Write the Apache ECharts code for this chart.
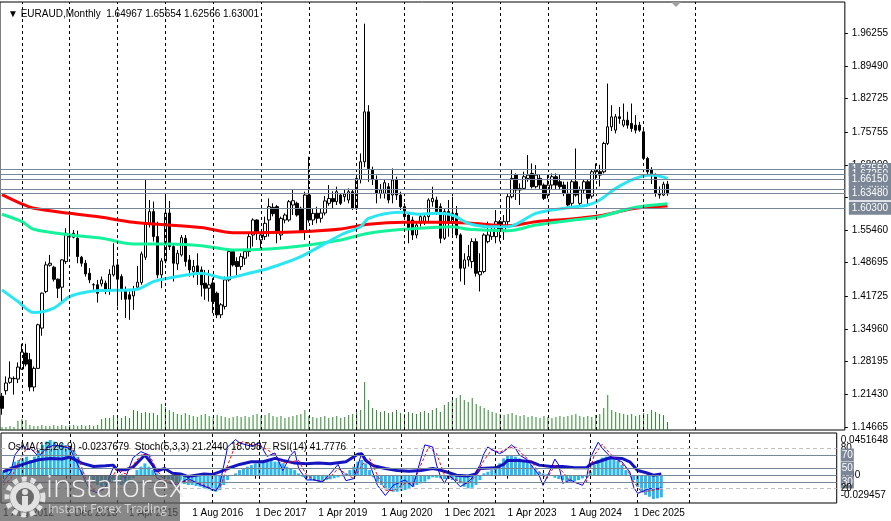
<!DOCTYPE html>
<html>
<head>
<meta charset="UTF-8">
<title>EURAUD Monthly</title>
<script src="https://cdn.jsdelivr.net/npm/echarts@6/dist/echarts.min.js"></script>
</head>
<body style="margin:0;background:#fff;overflow:hidden">
<div id="chart" style="width:891px;height:521px"></div>
<script type="text/javascript">
    var FONT = "'Liberation Sans', Arial, sans-serif";
    var FS = 10;

    // monthly slots from 1 Aug 2012, with empty room on the right like the terminal
    var monthNames = ['Jan', 'Feb', 'Mar', 'Apr', 'May', 'Jun', 'Jul', 'Aug', 'Sep', 'Oct', 'Nov', 'Dec'];
    var months = [];
    for (var k = 0; k < 212; k++) {
        var m = (7 + k) % 12, y = 2012 + Math.floor((7 + k) / 12);
        months.push('1 ' + monthNames[m] + ' ' + y);
    }
    var lastBar = 167;
    var labelEvery = 16;
    var yearLines = [5, 17, 29, 41, 53, 65, 77, 89, 101, 113, 125, 137, 149, 161, 174];

    var opens = [1.2100, 1.2215, 1.2388, 1.2464, 1.2457, 1.2664, 1.2995, 1.2857, 1.2291, 1.2678,
        1.3513, 1.4272, 1.4817, 1.4775, 1.4527, 1.4361, 1.4893, 1.5460, 1.5396, 1.5376,
        1.4982, 1.4858, 1.4651, 1.4410, 1.4410, 1.4430, 1.4444, 1.4320, 1.4617, 1.4824,
        1.4582, 1.4306, 1.4203, 1.4182, 1.4361, 1.4458, 1.4982, 1.5686, 1.5928, 1.5410,
        1.4617, 1.4906, 1.5900, 1.5203, 1.4844, 1.5030, 1.5375, 1.4927, 1.4686, 1.4803,
        1.4720, 1.4444, 1.4340, 1.4450, 1.4237, 1.3789, 1.3962, 1.4513, 1.5099, 1.4893,
        1.4789, 1.4962, 1.5099, 1.5444, 1.5755, 1.5341, 1.5410, 1.5755, 1.6017, 1.6031,
        1.5444, 1.5755, 1.5755, 1.6065, 1.6100, 1.5996, 1.5513, 1.6272, 1.5755, 1.5893,
        1.5790, 1.5900, 1.6100, 1.6200, 1.6134, 1.6272, 1.6238, 1.6169, 1.6341, 1.5996,
        1.6597, 1.6962, 1.7997, 1.6800, 1.6583, 1.6307, 1.6307, 1.6445, 1.6272, 1.6583,
        1.6272, 1.6031, 1.5858, 1.5755, 1.5444, 1.5686, 1.5720, 1.5824, 1.6134, 1.6169,
        1.6031, 1.5375, 1.5930, 1.5720, 1.5893, 1.5445, 1.4755, 1.4927, 1.4893, 1.5306,
        1.4617, 1.4686, 1.5306, 1.5410, 1.5410, 1.5720, 1.5513, 1.5720, 1.6238, 1.6686,
        1.6376, 1.6410, 1.6617, 1.6721, 1.6445, 1.6617, 1.6479, 1.6272, 1.6479, 1.6652,
        1.6548, 1.6479, 1.6307, 1.6100, 1.6548, 1.6100, 1.6376, 1.6548, 1.6250, 1.6755,
        1.6755, 1.6755, 1.7342, 1.7687, 1.7618, 1.7894, 1.7721, 1.7825, 1.7756, 1.7721,
        1.7721, 1.7583, 1.7031, 1.6790, 1.6686, 1.6307, 1.6272, 1.64967];
    var highs = [1.2167, 1.2512, 1.2823, 1.2512, 1.2802, 1.3188, 1.3188, 1.2995, 1.2719, 1.3602,
        1.4251, 1.4893, 1.5031, 1.4803, 1.4541, 1.4941, 1.5583, 1.5858, 1.5548, 1.5534,
        1.5010, 1.4927, 1.4755, 1.4444, 1.4513, 1.4582, 1.4499, 1.4734, 1.5272, 1.4927,
        1.4630, 1.4375, 1.4272, 1.4389, 1.4803, 1.5100, 1.6583, 1.6169, 1.6135, 1.5721,
        1.4962, 1.6300, 1.6150, 1.5272, 1.5134, 1.5444, 1.5444, 1.5030, 1.4927, 1.5065,
        1.4789, 1.4720, 1.4720, 1.4547, 1.4271, 1.4030, 1.4582, 1.5134, 1.5134, 1.4982,
        1.5065, 1.5134, 1.5479, 1.5789, 1.5769, 1.5479, 1.5824, 1.6203, 1.6100, 1.6065,
        1.5824, 1.5893, 1.6169, 1.6376, 1.6134, 1.6031, 1.6341, 1.7066, 1.6000, 1.6030,
        1.6000, 1.6250, 1.6479, 1.6350, 1.6445, 1.6307, 1.6376, 1.6410, 1.6376, 1.6652,
        1.7135, 1.9826, 1.8135, 1.6860, 1.6680, 1.6500, 1.6600, 1.6520, 1.6824, 1.6652,
        1.6341, 1.6100, 1.5893, 1.5824, 1.5720, 1.5893, 1.5893, 1.6203, 1.6445, 1.6238,
        1.6100, 1.6000, 1.6169, 1.6238, 1.6045, 1.5479, 1.5065, 1.5238, 1.5375, 1.5375,
        1.5065, 1.5479, 1.5720, 1.5651, 1.5962, 1.5755, 1.5858, 1.6300, 1.6790, 1.6721,
        1.6514, 1.6755, 1.7100, 1.6928, 1.6893, 1.6700, 1.6514, 1.6686, 1.6721, 1.6721,
        1.6700, 1.6550, 1.6548, 1.6600, 1.7238, 1.6450, 1.6600, 1.6583, 1.6790, 1.6928,
        1.6900, 1.7376, 1.8583, 1.8135, 1.7950, 1.8100, 1.8170, 1.8000, 1.8170, 1.7928,
        1.7790, 1.7618, 1.7066, 1.6850, 1.6721, 1.6450, 1.6548, 1.65654];
    var lows = [1.1718, 1.2133, 1.2360, 1.2133, 1.2374, 1.2650, 1.2719, 1.2202, 1.2202, 1.2671,
        1.3354, 1.4237, 1.4789, 1.4479, 1.4134, 1.4044, 1.4844, 1.4996, 1.5376, 1.4858,
        1.4789, 1.4582, 1.4444, 1.4306, 1.4044, 1.4375, 1.4216, 1.4202, 1.4582, 1.3961,
        1.4099, 1.3720, 1.3685, 1.3892, 1.4306, 1.4410, 1.4927, 1.5600, 1.5307, 1.4548,
        1.4340, 1.4858, 1.5130, 1.4478, 1.4720, 1.4996, 1.4790, 1.4582, 1.4560, 1.4409,
        1.4168, 1.4099, 1.4064, 1.3823, 1.3720, 1.3720, 1.3900, 1.4478, 1.4789, 1.4582,
        1.4720, 1.4823, 1.4996, 1.5203, 1.5341, 1.5168, 1.5341, 1.5410, 1.5830, 1.5272,
        1.5341, 1.5686, 1.5720, 1.5858, 1.5824, 1.5513, 1.5341, 1.5700, 1.5650, 1.5686,
        1.5700, 1.5850, 1.6050, 1.6000, 1.6065, 1.6065, 1.6134, 1.6100, 1.5962, 1.5962,
        1.6514, 1.6850, 1.6548, 1.6480, 1.6100, 1.6200, 1.6200, 1.6100, 1.6100, 1.6169,
        1.5962, 1.5755, 1.5272, 1.5341, 1.5375, 1.5617, 1.5651, 1.5720, 1.6031, 1.5858,
        1.5272, 1.5341, 1.5410, 1.5450, 1.5376, 1.4479, 1.4410, 1.4790, 1.4755, 1.4582,
        1.4272, 1.4651, 1.5272, 1.5341, 1.5272, 1.5307, 1.5341, 1.5650, 1.6203, 1.6169,
        1.6065, 1.6376, 1.6548, 1.6410, 1.6410, 1.6400, 1.6169, 1.6203, 1.6376, 1.6400,
        1.6380, 1.6250, 1.6031, 1.6000, 1.6238, 1.6031, 1.6300, 1.6065, 1.6200, 1.6600,
        1.6450, 1.6721, 1.7307, 1.7600, 1.7550, 1.7750, 1.7680, 1.7650, 1.7583, 1.7549,
        1.7583, 1.6997, 1.6686, 1.6500, 1.6238, 1.6200, 1.6250, 1.62566];
    var closes = [1.1850, 1.2374, 1.2478, 1.2470, 1.2705, 1.3016, 1.2767, 1.2291, 1.2678, 1.3582,
        1.4237, 1.4824, 1.4858, 1.4527, 1.4340, 1.4927, 1.5479, 1.5400, 1.5479, 1.4996,
        1.4858, 1.4637, 1.4513, 1.4416, 1.4237, 1.4513, 1.4272, 1.4630, 1.4803, 1.4527,
        1.4306, 1.4113, 1.4113, 1.4292, 1.4465, 1.5051, 1.5686, 1.5928, 1.5410, 1.4617,
        1.4906, 1.5900, 1.5203, 1.4858, 1.5065, 1.5389, 1.4893, 1.4720, 1.4790, 1.4665,
        1.4409, 1.4340, 1.4410, 1.4064, 1.3789, 1.3996, 1.4513, 1.5099, 1.4823, 1.4789,
        1.4996, 1.5099, 1.5410, 1.5755, 1.5513, 1.5444, 1.5686, 1.6031, 1.5886, 1.5513,
        1.5789, 1.5858, 1.6134, 1.6155, 1.5858, 1.5530, 1.6272, 1.5755, 1.5893, 1.5790,
        1.5900, 1.6150, 1.6200, 1.6134, 1.6341, 1.6100, 1.6293, 1.6341, 1.5996, 1.6617,
        1.6962, 1.7997, 1.6824, 1.6600, 1.6307, 1.6380, 1.6528, 1.6169, 1.6583, 1.6272,
        1.6031, 1.5824, 1.5582, 1.5444, 1.5651, 1.5824, 1.5824, 1.6169, 1.6203, 1.5927,
        1.5375, 1.5930, 1.5720, 1.5900, 1.5445, 1.4755, 1.4927, 1.4996, 1.5306, 1.4651,
        1.4686, 1.5444, 1.5444, 1.5548, 1.5720, 1.5548, 1.5720, 1.6238, 1.6617, 1.6376,
        1.6410, 1.6652, 1.6686, 1.6445, 1.6686, 1.6479, 1.6203, 1.6479, 1.6652, 1.6479,
        1.6445, 1.6307, 1.6065, 1.6548, 1.6272, 1.6376, 1.6548, 1.6203, 1.6755, 1.6790,
        1.6686, 1.7342, 1.7687, 1.7894, 1.7894, 1.7860, 1.7825, 1.7721, 1.7652, 1.7618,
        1.7618, 1.7031, 1.6755, 1.6686, 1.6307, 1.6272, 1.6497, 1.63001];

    // tick volume, thousands
    var volumes = [3, 3, 4, 3, 9, 11, 10, 5, 4, 4, 5, 4, 4, 5, 4, 5, 4, 5, 5, 4,
        5, 4, 5, 4, 5, 11, 12, 12, 15, 13, 12, 14, 12, 20, 19, 17, 18, 17, 17, 15,
        26, 23, 20, 18, 16, 15, 17, 15, 14, 13, 15, 16, 14, 13, 15, 14, 13, 12, 13, 14,
        13, 14, 13, 15, 16, 14, 15, 17, 14, 13, 14, 12, 13, 14, 15, 16, 20, 14, 13, 12,
        13, 14, 12, 13, 14, 12, 13, 15, 16, 18, 20, 48, 30, 22, 20, 18, 19, 17, 18, 20,
        17, 16, 18, 17, 16, 18, 19, 17, 20, 22, 18, 25, 28, 30, 32, 35, 30, 28, 32, 26,
        24, 22, 20, 18, 17, 16, 15, 16, 17, 15, 14, 15, 13, 14, 13, 12, 14, 13, 12, 13,
        14, 13, 14, 15, 16, 14, 13, 14, 13, 15, 16, 22, 35, 20, 18, 17, 16, 15, 16, 14,
        15, 17, 16, 20, 18, 16, 15, 8];

    // moving averages: [bar, price]
    var maRed = [[0, 1.6280], [5, 1.6086], [8, 1.5997], [17, 1.5893], [25, 1.5811], [33, 1.5707], [42, 1.5651],
        [50, 1.5600], [58, 1.5492], [75, 1.5513], [85, 1.5568], [92, 1.5666], [101, 1.5707], [109, 1.5707],
        [117, 1.5693], [127, 1.5637], [134, 1.5720], [142, 1.5769], [150, 1.5844], [159, 1.5997], [167, 1.6044]];
    var maGreen = [[0, 1.5873], [5, 1.5720], [8, 1.5562], [17, 1.5444], [25, 1.5376], [33, 1.5258], [42, 1.5258],
        [50, 1.5223], [58, 1.5134], [67, 1.5154], [75, 1.5216], [85, 1.5341], [92, 1.5479], [101, 1.5562],
        [109, 1.5604], [113, 1.5616], [117, 1.5562], [127, 1.5533], [134, 1.5651], [142, 1.5740], [150, 1.5823],
        [159, 1.6018], [167, 1.6092]];
    var maCyan = [[0, 1.4306], [4, 1.4064], [8, 1.3836], [13, 1.3927], [17, 1.4167], [21, 1.4258], [25, 1.4291],
        [34, 1.4320], [38, 1.4478], [43, 1.4569], [50, 1.4651], [56, 1.4548], [62, 1.4651], [67, 1.4755],
        [75, 1.4995], [85, 1.5444], [90, 1.5616], [92, 1.5790], [100, 1.5914], [105, 1.5873], [109, 1.5893],
        [113, 1.5858], [117, 1.5686], [122, 1.5616], [127, 1.5616], [134, 1.5893], [142, 1.6009], [147, 1.6065],
        [150, 1.6169], [154, 1.6411], [159, 1.6618], [163, 1.6686], [167, 1.6618]];

    var osma = [0.0044, 0.0062, 0.0099, 0.0154, 0.0172, 0.0190, 0.0209, 0.0172, 0.0209, 0.0282,
        0.0337, 0.0374, 0.0392, 0.0374, 0.0337, 0.0355, 0.0337, 0.0319, 0.0282, 0.0209,
        0.0062, 0.0007, -0.0040, -0.0084, -0.0102, -0.0121, -0.0102, -0.0084, -0.0066, -0.0084,
        -0.0102, -0.0102, -0.0066, -0.0029, 0.0062, 0.0099, 0.0135, 0.0099, 0.0062, 0.0026,
        -0.0018, -0.0029, -0.0040, -0.0066, -0.0077, -0.0084, -0.0092, -0.0102, -0.0102, -0.0113,
        -0.0121, -0.0139, -0.0150, -0.0165, -0.0176, -0.0157, -0.0102, -0.0048, 0.0007, 0.0026,
        0.0062, 0.0081, 0.0099, 0.0117, 0.0135, 0.0154, 0.0172, 0.0172, 0.0172, 0.0154,
        0.0154, 0.0135, 0.0099, 0.0081, 0.0062, 0.0026, -0.0011, -0.0029, -0.0048, -0.0055,
        -0.0066, -0.0066, -0.0048, -0.0040, -0.0029, -0.0018, -0.0004, 0.0026, 0.0062, 0.0099,
        0.0154, 0.0172, 0.0135, 0.0062, -0.0018, -0.0066, -0.0102, -0.0139, -0.0157, -0.0176,
        -0.0176, -0.0165, -0.0157, -0.0139, -0.0121, -0.0102, -0.0084, -0.0066, -0.0040, -0.0018,
        -0.0022, -0.0029, -0.0037, -0.0037, -0.0048, -0.0059, -0.0084, -0.0121, -0.0139, -0.0132,
        -0.0102, -0.0048, 0.0026, 0.0044, 0.0062, 0.0099, 0.0136, 0.0190, 0.0220, 0.0220,
        0.0209, 0.0190, 0.0172, 0.0154, 0.0117, 0.0081, 0.0044, 0.0026, 0.0015, 0.0007,
        -0.0022, -0.0037, -0.0048, -0.0059, -0.0066, -0.0059, -0.0048, -0.0029, -0.0011, 0.0044,
        0.0117, 0.0172, 0.0198, 0.0209, 0.0201, 0.0190, 0.0161, 0.0117, 0.0062, 0.0015,
        -0.0048, -0.0121, -0.0176, -0.0212, -0.0231, -0.0256, -0.0249, -0.0237679];

    var stochMain = [[0, 30], [2, 45], [3, 70], [5, 85], [6, 78], [7, 80], [9, 68], [11, 80], [13, 85], [17, 80],
        [19, 55], [22, 18], [24, 14], [26, 22], [28, 52], [29, 50], [31, 35], [33, 66], [35, 75], [37, 70],
        [39, 36], [41, 30], [44, 26], [47, 35], [50, 26], [54, 17], [55, 26], [57, 82], [59, 93], [60, 88],
        [63, 83], [65, 88], [67, 68], [69, 73], [71, 47], [73, 70], [74, 76], [75, 50], [77, 33], [79, 33],
        [81, 30], [83, 42], [85, 56], [87, 32], [89, 35], [91, 73], [93, 57], [95, 25], [97, 10], [99, 25],
        [102, 33], [104, 23], [107, 85], [109, 82], [110, 55], [111, 38], [112, 28], [113, 40], [114, 36],
        [116, 23], [118, 30], [119, 36], [121, 55], [122, 72], [123, 82], [124, 78], [126, 72], [127, 75],
        [129, 85], [130, 80], [131, 70], [133, 63], [134, 55], [136, 40], [137, 25], [139, 50], [140, 64],
        [141, 55], [142, 28], [144, 33], [145, 30], [147, 25], [148, 35], [149, 66], [151, 89], [152, 80],
        [154, 68], [155, 65], [157, 60], [159, 45], [160, 22], [161, 13], [163, 18], [164, 20], [166, 20],
        [167, 21.244]];
    var stochSignal = [[0, 25], [2, 35], [4, 60], [6, 80], [8, 76], [10, 72], [12, 82], [14, 84], [17, 82],
        [19, 68], [21, 35], [23, 18], [25, 16], [27, 30], [29, 50], [31, 42], [33, 55], [35, 70], [37, 72],
        [39, 48], [41, 32], [44, 28], [47, 32], [50, 28], [53, 20], [55, 20], [57, 55], [59, 85], [61, 90],
        [63, 85], [65, 85], [67, 78], [69, 70], [71, 58], [73, 60], [75, 62], [77, 40], [79, 33], [81, 31],
        [83, 37], [85, 50], [87, 42], [89, 35], [91, 55], [93, 65], [95, 40], [97, 18], [99, 17], [102, 28],
        [104, 27], [106, 55], [108, 82], [110, 72], [112, 40], [114, 36], [116, 30], [118, 27], [120, 40],
        [122, 62], [124, 78], [126, 74], [128, 80], [130, 82], [132, 70], [134, 60], [136, 45], [138, 35],
        [140, 55], [142, 45], [144, 30], [146, 28], [148, 30], [150, 70], [152, 86], [154, 72], [156, 62],
        [158, 52], [160, 30], [162, 15], [164, 17], [166, 19], [167, 18.0987]];
    var rsi = [[0, 45], [3, 52], [6, 58], [9, 63], [12, 65], [15, 64], [17, 67], [20, 58], [23, 53], [26, 54],
        [28, 55], [29, 48], [31, 48], [33, 52], [36, 70], [38, 55], [39, 46], [41, 50], [43, 43], [45, 42],
        [47, 38], [49, 40], [51, 42], [53, 41], [55, 45], [57, 50], [60, 56], [63, 60], [66, 60], [69, 65],
        [71, 62], [74, 58], [77, 57], [80, 58], [83, 57], [87, 60], [90, 71], [91, 72], [92, 62], [94, 54],
        [97, 50], [100, 47], [103, 46], [106, 47], [109, 50], [110, 49], [113, 44], [115, 40], [118, 39],
        [120, 42], [121, 50], [125, 51], [127, 56], [128, 62], [131, 62], [134, 60], [136, 55], [139, 53],
        [142, 53], [145, 51], [148, 51], [149, 56], [151, 60], [154, 66], [157, 65], [159, 60], [161, 47],
        [163, 44], [165, 40], [167, 41.7776]];

    var priceTicks = [1.14665, 1.21430, 1.28195, 1.34960, 1.41725, 1.48695, 1.55460, 1.62225, 1.68990,
        1.75755, 1.82725, 1.89490, 1.96255];
    // horizontal levels, bottom of the stack first so the later tags sit on top
    var hiddenTags = [1.68040, 1.67550, 1.63900];
    var priceTags = [1.67250, 1.66150, 1.63480, 1.60300];
    var bidPrice = 1.63001;
    var osmaScaleText = ['0.0451648', '0.00', '-0.029457'];
    var osmaScalePos = [0.0392, 0, -0.0220];

    var candles = [];
    for (var i = 0; i < opens.length; i++) {
        candles.push([opens[i], closes[i], lows[i], highs[i]]);
    }

    var tagLabel = {
        show: true, position: 'end', distance: 4, color: '#fff', backgroundColor: '#7b8696',
        padding: [2, 3, 1, 3], fontSize: FS, fontFamily: FONT
    };
    var levelLine = {color: '#76879a', width: 1, type: 'solid'};

    var levelData = [];
    levelData.push({yAxis: bidPrice, label: {show: false}, lineStyle: {color: '#c4c4c4', width: 1, type: 'solid'}});
    hiddenTags.concat(priceTags).forEach(function (v) {
        levelData.push({yAxis: v, label: Object.assign({formatter: v.toFixed(5)}, tagLabel), lineStyle: levelLine});
    });

    var gridLines = {
        silent: true, symbol: ['none', 'none'], animation: false,
        label: {show: false},
        lineStyle: {color: '#000', width: 1, type: [3, 3]},
        data: yearLines.map(function (i) { return {xAxis: months[i]}; })
    };

    var smallTag = Object.assign({}, tagLabel, {padding: [2, 1, 1, 1]});
    var lowerLevels = [
        {yAxis: 80, lineStyle: {color: '#c0c0c0', type: [4, 3], width: 1},
            label: {show: true, position: 'end', distance: 4, formatter: '80', color: '#000', fontSize: FS, fontFamily: FONT, padding: [0, 0, 7, 0]}},
        {yAxis: 70, lineStyle: levelLine, label: Object.assign({formatter: '70'}, smallTag)},
        {yAxis: 50, lineStyle: levelLine, label: Object.assign({formatter: '50'}, smallTag)},
        {yAxis: 40, lineStyle: levelLine, label: {show: false}},
        {yAxis: 30, lineStyle: levelLine, label: Object.assign({formatter: '30'}, smallTag)},
        {yAxis: 20, lineStyle: {color: '#c0c0c0', type: [4, 3], width: 1},
            label: {show: true, position: 'end', distance: 4, formatter: '20', color: '#000', fontSize: FS, fontFamily: FONT, padding: [0, 0, 4, 0]}}
    ];

    function showDate(index) {
        return index % labelEvery === 0 && index <= lastBar;
    }

    var chart = echarts.init(document.getElementById('chart'), null, {renderer: 'canvas'});
    var option = {
        animation: false,
        backgroundColor: '#fff',
        textStyle: {fontFamily: FONT},
        title: [{
            text: '\u25BC EURAUD,Monthly  1.64967 1.65654 1.62566 1.63001',
            left: 3, top: 4,
            textStyle: {fontSize: FS, fontWeight: 'normal', color: '#000', fontFamily: FONT}
        }, {
            text: 'OsMA(12,26,9) -0.0237679  Stoch(5,3,3) 21.2440 18.0987  RSI(14) 41.7776',
            left: 3, top: 437,
            textStyle: {fontSize: FS, fontWeight: 'normal', color: '#000', fontFamily: FONT}
        }],
        grid: [
            {left: -3, right: 46, top: 2, height: 428, show: true, borderColor: '#000', borderWidth: 1},
            {left: -3, right: 46, top: 433, height: 70, show: true, borderColor: '#000', borderWidth: 1}
        ],
        xAxis: [{
            type: 'category', gridIndex: 0, data: months, boundaryGap: true,
            axisLine: {show: false}, axisTick: {show: false}, axisLabel: {show: false}, splitLine: {show: false}
        }, {
            type: 'category', gridIndex: 1, data: months, boundaryGap: true,
            axisLine: {show: false},
            axisTick: {show: true, interval: showDate, alignWithLabel: true, length: 3, lineStyle: {color: '#000'}},
            axisLabel: {interval: showDate, align: 'left', margin: 5, fontSize: FS, color: '#000', fontFamily: FONT},
            splitLine: {show: false}
        }],
        yAxis: [{
            type: 'value', gridIndex: 0, position: 'right', min: 1.1400, max: 2.0275,
            splitLine: {show: false}, axisLine: {show: false},
            axisTick: {show: true, length: 3, customValues: priceTicks, lineStyle: {color: '#000'}},
            axisLabel: {customValues: priceTicks, margin: 7, fontSize: FS, color: '#000', fontFamily: FONT,
                formatter: function (v) { return v.toFixed(5); }}
        }, {
            type: 'value', gridIndex: 0, min: 0, max: 428, show: false
        }, {
            type: 'value', gridIndex: 1, position: 'right', min: -0.02996, max: 0.04686,
            splitLine: {show: false}, axisLine: {show: false}, axisTick: {show: false},
            axisLabel: {customValues: osmaScalePos, margin: 4, fontSize: FS, color: '#000', fontFamily: FONT,
                formatter: function (v) {
                    var best = 0;
                    for (var j = 1; j < osmaScalePos.length; j++) {
                        if (Math.abs(osmaScalePos[j] - v) < Math.abs(osmaScalePos[best] - v)) best = j;
                    }
                    return osmaScaleText[best];
                }}
        }, {
            type: 'value', gridIndex: 1, min: -1.19, max: 102.67, show: false
        }],
        series: [{
            name: 'Volume', type: 'bar', xAxisIndex: 0, yAxisIndex: 1, data: volumes,
            barWidth: 1, itemStyle: {color: '#2a8a2a'}, silent: true, z: 1,
            markLine: gridLines
        }, {
            name: 'EURAUD', type: 'candlestick', xAxisIndex: 0, yAxisIndex: 0, data: candles,
            barWidth: 3, z: 3,
            itemStyle: {color: '#fff', color0: '#000', borderColor: '#000', borderColor0: '#000', borderWidth: 1},
            markLine: {silent: true, symbol: ['none', 'none'], animation: false, data: levelData}
        }, {
            name: 'MA slow', type: 'line', xAxisIndex: 0, yAxisIndex: 0, data: maRed,
            showSymbol: false, smooth: 0.3, lineStyle: {color: '#ff0000', width: 3}, z: 4
        }, {
            name: 'MA mid', type: 'line', xAxisIndex: 0, yAxisIndex: 0, data: maGreen,
            showSymbol: false, smooth: 0.3, lineStyle: {color: '#14f29c', width: 3}, z: 4
        }, {
            name: 'MA fast', type: 'line', xAxisIndex: 0, yAxisIndex: 0, data: maCyan,
            showSymbol: false, smooth: 0.3, lineStyle: {color: '#2ae6f2', width: 3}, z: 4
        }, {
            name: 'OsMA', type: 'bar', xAxisIndex: 1, yAxisIndex: 2, data: osma,
            barWidth: 3, itemStyle: {color: '#2cb6ee'}, silent: true, z: 1,
            markLine: gridLines
        }, {
            name: 'RSI', type: 'line', xAxisIndex: 1, yAxisIndex: 3, data: rsi,
            showSymbol: false, lineStyle: {color: '#1414c0', width: 3}, z: 3
        }, {
            name: 'Stoch signal', type: 'line', xAxisIndex: 1, yAxisIndex: 3, data: stochSignal,
            showSymbol: false, lineStyle: {color: '#ff0000', width: 1, type: [3, 2]}, z: 4
        }, {
            name: 'Stoch', type: 'line', xAxisIndex: 1, yAxisIndex: 3, data: stochMain,
            showSymbol: false, lineStyle: {color: '#0000ff', width: 1}, z: 4,
            markLine: {silent: true, symbol: ['none', 'none'], animation: false, data: lowerLevels}
        }],
        graphic: [
            // chart shift marker
            {type: 'polygon', shape: {points: [[671, 2], [681, 2], [676, 7]]}, style: {fill: '#a0a0a0'}, z: 50},
            // logo
            {type: 'rect', left: 0, top: 475, shape: {width: 180, height: 46}, style: {fill: 'rgba(90,90,90,0.72)'}, z: 100},
            {type: 'circle', shape: {cx: 25, cy: 497, r: 18}, style: {fill: 'none', stroke: '#e2e2e2', lineWidth: 5, lineDash: [5, 4]}, z: 101},
            {type: 'circle', shape: {cx: 25, cy: 497, r: 15}, style: {fill: '#e2e2e2'}, z: 101},
            {type: 'circle', shape: {cx: 25, cy: 497, r: 9}, style: {fill: '#6a6a6a'}, z: 102},
            {type: 'circle', shape: {cx: 25, cy: 492, r: 3}, style: {fill: '#e2e2e2'}, z: 103},
            {type: 'rect', shape: {x: 22, y: 496, width: 6, height: 12}, style: {fill: '#e2e2e2'}, z: 103},
            {type: 'text', left: 46, top: 473, style: {text: 'instaforex', fill: '#eeeeee', font: '300 31px "Open Sans", sans-serif'}, z: 101},
            {type: 'text', left: 48, top: 504, style: {text: 'Instant Forex Trading', fill: '#d4d4d4', font: '12px "Open Sans", sans-serif'}, z: 101}
        ]
    };
    chart.setOption(option);
</script>
</body>
</html>
